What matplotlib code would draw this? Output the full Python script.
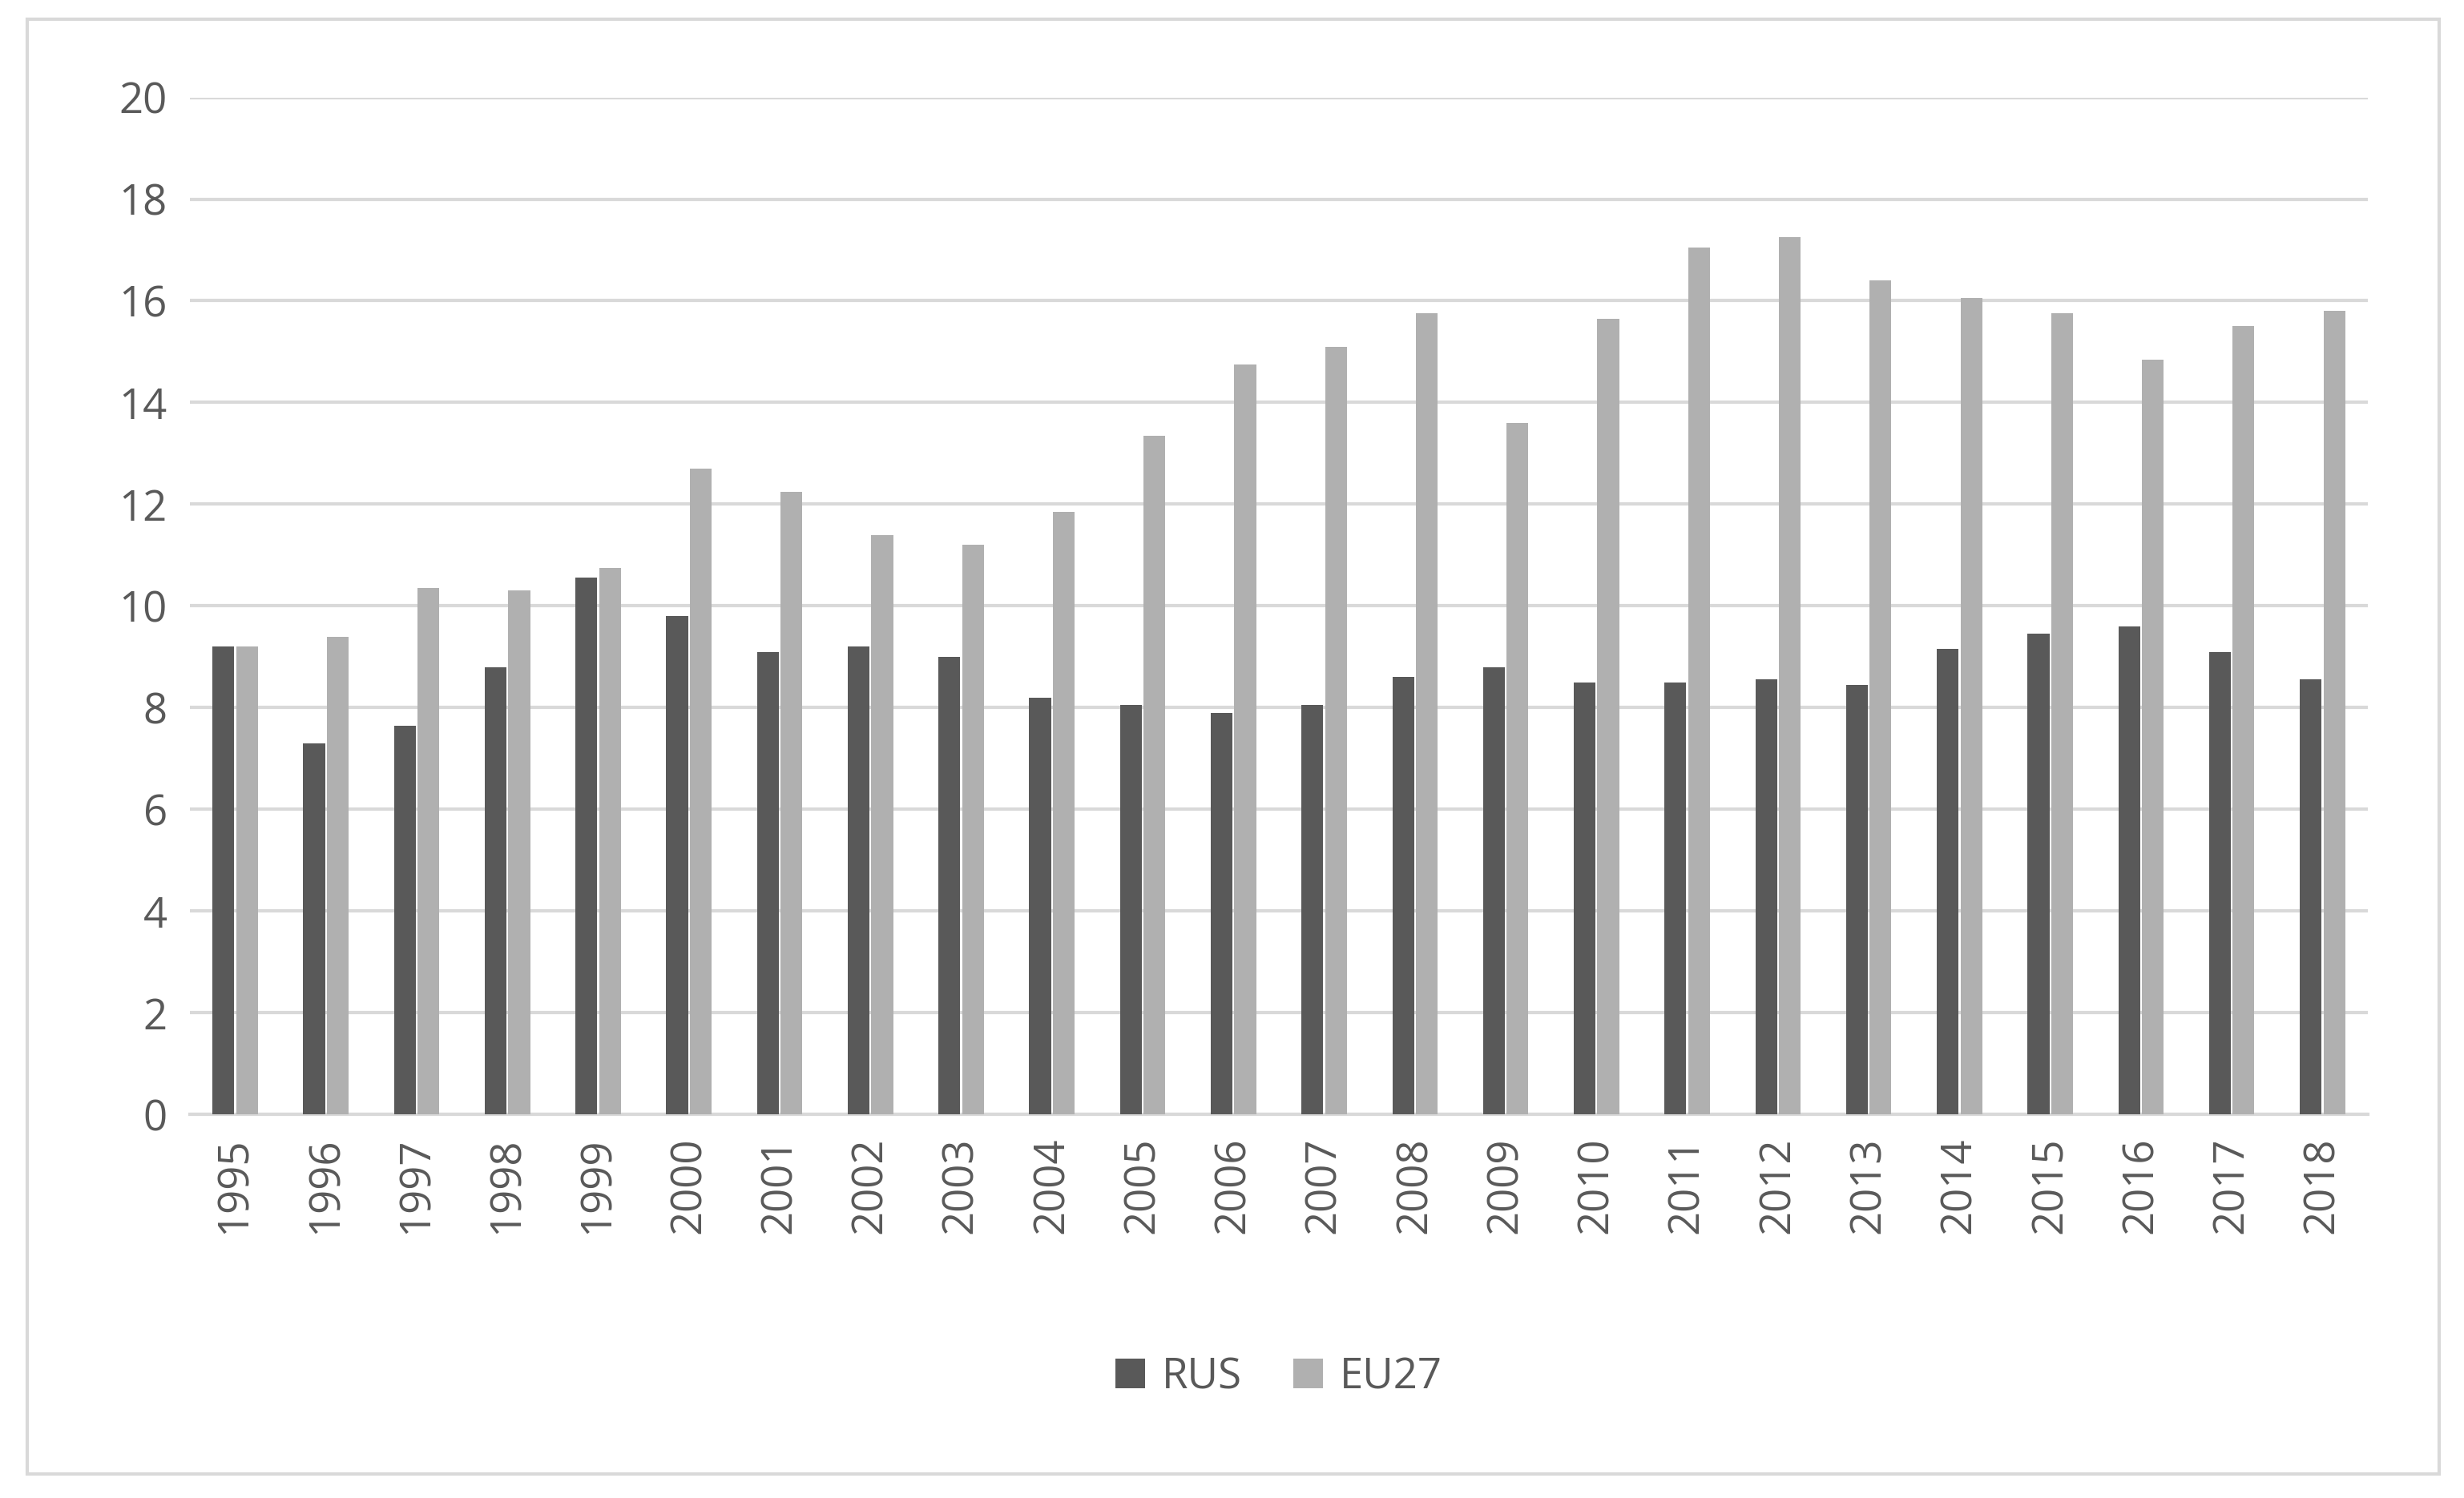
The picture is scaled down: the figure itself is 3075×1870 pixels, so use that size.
import matplotlib
matplotlib.use("Agg")
import matplotlib.pyplot as plt
import numpy as np
from matplotlib.patches import Rectangle

years = [str(y) for y in range(1995, 2019)]
rus = [9.2,7.3,7.65,8.8,10.55,9.8,9.1,9.2,9.0,8.2,8.05,7.9,8.05,8.6,8.8,8.5,8.5,8.55,8.45,9.15,9.45,9.6,9.1,8.55]
eu27 = [9.2,9.4,10.35,10.3,10.75,12.7,12.25,11.4,11.2,11.85,13.35,14.75,15.1,15.75,13.6,15.65,17.05,17.25,16.4,16.05,15.75,14.85,15.5,15.8]

plt.rcParams['font.family'] = ['Open Sans', 'DejaVu Sans']
fig = plt.figure(figsize=(15.375, 9.35), dpi=200)
fig.patches.append(Rectangle((0.011, 0.016), 0.979, 0.971, transform=fig.transFigure,
                             fill=False, edgecolor='#d9d9d9', linewidth=1.5))
ax = fig.add_axes([0.077, 0.256, 0.884, 0.679])
x = np.arange(len(years))
w = 0.24
ax.bar(x - w/2 - 0.01, rus, w, color='#595959', label='RUS', zorder=3)
ax.bar(x + w/2 + 0.01, eu27, w, color='#b0b0b0', label='EU27', zorder=3)
ax.set_ylim(0, 20)
ax.set_yticks(range(0, 21, 2))
ax.set_xlim(-0.5, len(years) - 0.5)
ax.set_xticks(x)
ax.set_xticklabels(years, rotation=90)
ax.grid(axis='y', color='#d9d9d9', linewidth=1.5, zorder=0)
for s in ['top', 'right', 'left']:
    ax.spines[s].set_visible(False)
ax.spines['bottom'].set_color('#d9d9d9')
ax.spines['bottom'].set_linewidth(1.5)
ax.tick_params(length=0, labelsize=19, colors='#595959', pad=10)
ax.legend(loc='upper center', bbox_to_anchor=(0.5, -0.2), ncol=2, frameon=False,
          fontsize=19, labelcolor='#595959', handlelength=0.7, handleheight=0.7,
          columnspacing=1.2, handletextpad=0.4)
fig.savefig('out.png', dpi=200)
